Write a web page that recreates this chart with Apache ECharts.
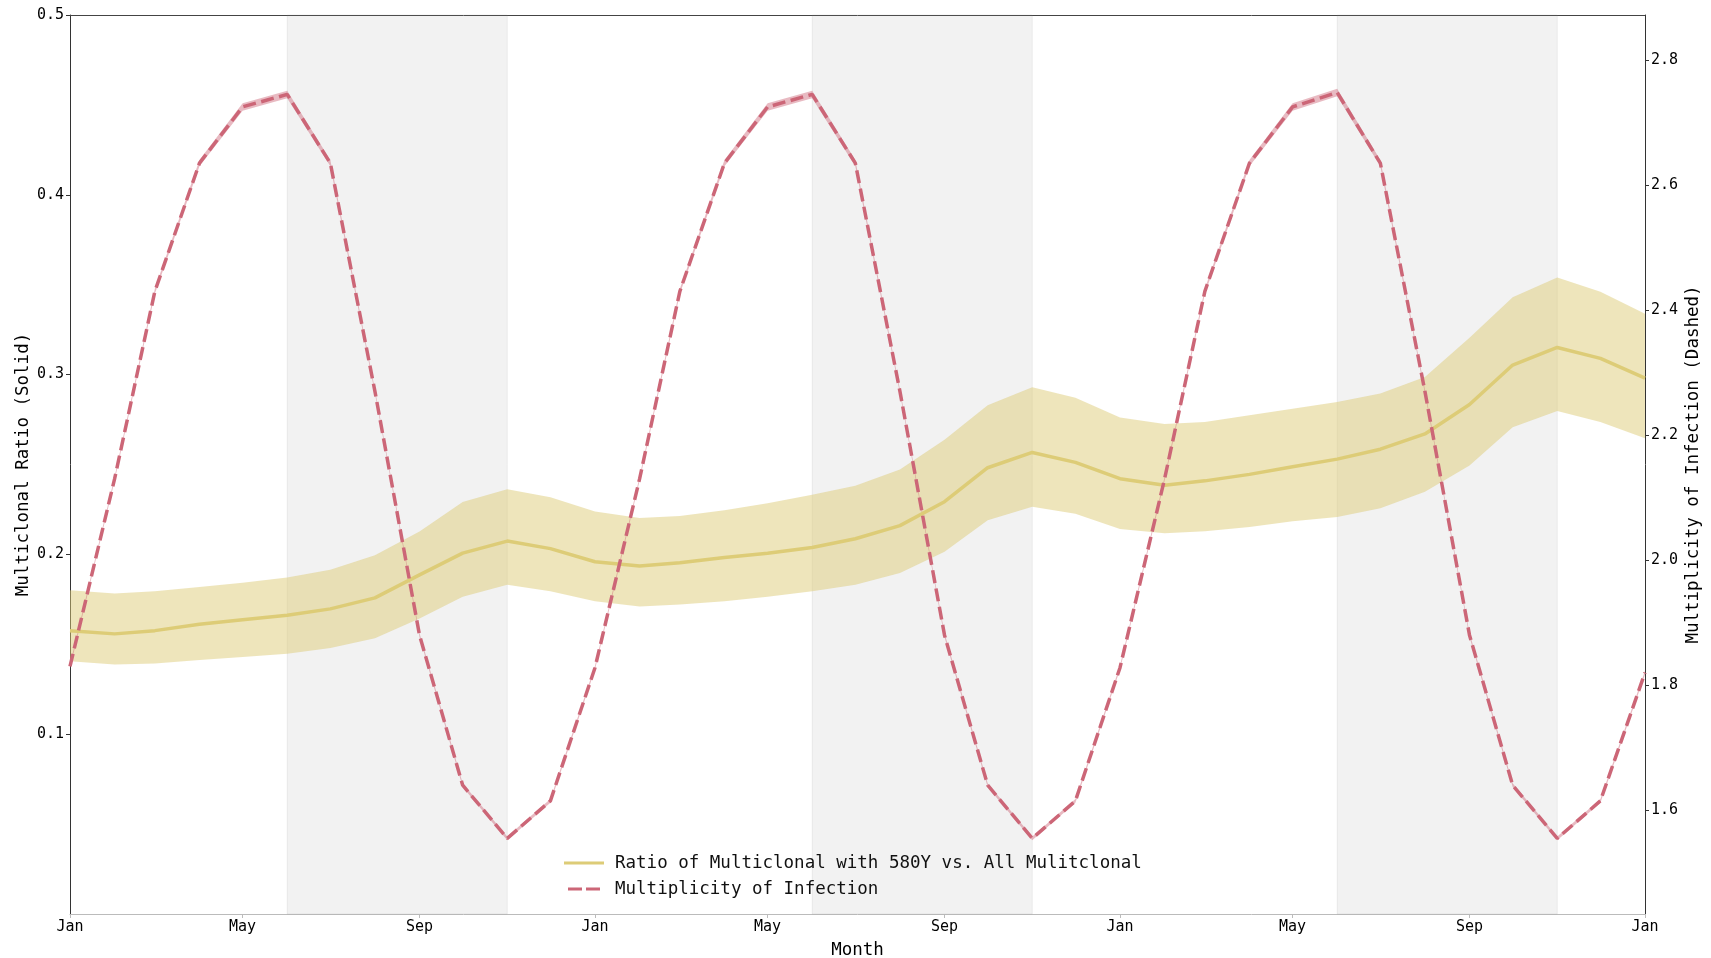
<!DOCTYPE html>
<html><head><meta charset="utf-8">
<script src="https://cdn.jsdelivr.net/npm/echarts@6/dist/echarts.min.js"></script>
<style>html,body{margin:0;padding:0;background:#fff}#chart{width:1711px;height:958px}</style>
</head><body><div id="chart"></div><script>
const months = [
  '2021-01-01','2021-02-01','2021-03-01','2021-04-01','2021-05-01','2021-06-01','2021-07-01','2021-08-01','2021-09-01','2021-10-01','2021-11-01','2021-12-01',
  '2022-01-01','2022-02-01','2022-03-01','2022-04-01','2022-05-01','2022-06-01','2022-07-01','2022-08-01','2022-09-01','2022-10-01','2022-11-01','2022-12-01',
  '2023-01-01','2023-02-01','2023-03-01','2023-04-01','2023-05-01','2023-06-01','2023-07-01','2023-08-01','2023-09-01','2023-10-01','2023-11-01','2023-12-01',
  '2024-01-01'];
const ratioMean = [0.1576,0.1558,0.1576,0.1612,0.1637,0.1661,0.1697,0.1758,0.1886,0.2007,0.2074,0.2032,
  0.1959,0.1935,0.1953,0.1983,0.2007,0.2038,0.2087,0.2160,0.2293,0.2482,0.2567,0.2512,
  0.2421,0.2385,0.2409,0.2445,0.2488,0.2530,0.2585,0.2670,0.2834,0.3053,0.3151,0.3090,0.2980];
const ratioHigh = [0.1801,0.1783,0.1795,0.1819,0.1843,0.1872,0.1915,0.1995,0.2128,0.2292,0.2362,0.2318,
  0.2239,0.2202,0.2214,0.2245,0.2285,0.2332,0.2382,0.2472,0.2638,0.2830,0.2930,0.2871,
  0.2761,0.2725,0.2737,0.2774,0.2810,0.2847,0.2895,0.2986,0.3205,0.3430,0.3540,0.3461,0.3339];
const ratioLow = [0.1406,0.1387,0.1393,0.1412,0.1430,0.1448,0.1479,0.1533,0.1643,0.1764,0.1831,0.1795,
  0.1740,0.1710,0.1722,0.1740,0.1764,0.1795,0.1831,0.1896,0.2015,0.2190,0.2265,0.2226,
  0.2141,0.2117,0.2129,0.2153,0.2184,0.2208,0.2257,0.2348,0.2494,0.2707,0.2798,0.2737,0.2646];
const moiMean = [1.830,2.130,2.430,2.635,2.725,2.745,2.635,2.270,1.880,1.640,1.555,1.615,
  1.828,2.130,2.430,2.635,2.725,2.745,2.635,2.270,1.880,1.640,1.555,1.615,
  1.828,2.130,2.430,2.635,2.725,2.748,2.635,2.270,1.880,1.640,1.555,1.615,1.820];
const moiErr = [0.003,0.003,0.004,0.005,0.006,0.006,0.005,0.003,0.003,0.003,0.003,0.003,
  0.003,0.003,0.004,0.005,0.006,0.006,0.005,0.003,0.003,0.003,0.003,0.003,
  0.003,0.003,0.004,0.005,0.006,0.006,0.005,0.003,0.003,0.003,0.003,0.003,0.003];
const leftTicks = [0.1,0.2,0.3,0.4,0.5];
const rightTicks = [1.6,1.8,2.0,2.2,2.4,2.6,2.8];
const xTickDates = ['2021-01-01','2021-05-01','2021-09-01','2022-01-01','2022-05-01','2022-09-01','2023-01-01','2023-05-01','2023-09-01','2024-01-01'];
const monthNames = ['Jan','Feb','Mar','Apr','May','Jun','Jul','Aug','Sep','Oct','Nov','Dec'];
const seasonSpans = [['2021-06-01','2021-11-01'],['2022-06-01','2022-11-01'],['2023-06-01','2023-11-01']];
const seriesNames = ['Ratio of Multiclonal with 580Y vs. All Mulitclonal','Multiplicity of Infection'];

function ts(s){ return Date.UTC(+s.slice(0,4), +s.slice(5,7)-1, +s.slice(8,10)); }
const X = months.map(ts);
const xTicks = xTickDates.map(ts);
const FONT = 'DejaVu Sans Mono';
const SAND = '#DDCC77', ROSE = '#CC6677';
const moiLow = moiMean.map((v,i)=>v-moiErr[i]);
const moiHigh = moiMean.map((v,i)=>v+moiErr[i]);

function bandSeries(low, high, yIdx, fill, z){
  return {type:'custom', yAxisIndex:yIdx, z:z, silent:true, clip:true,
    data: X.map((t,i)=>[t, low[i], high[i]]),
    encode:{x:0, y:[1,2]},
    renderItem:(params, api)=>{
      if (params.dataIndex !== 0) return null;
      const pts = [];
      for (let i=0;i<X.length;i++) pts.push(api.coord([X[i], high[i]]));
      for (let i=X.length-1;i>=0;i--) pts.push(api.coord([X[i], low[i]]));
      return {type:'polygon', shape:{points:pts}, style:{fill:fill}};
    }};
}

const tickFont = {fontFamily:FONT, fontSize:15, color:'#000'};
const titleFont = {fontFamily:FONT, fontSize:17.5, color:'#000'};
const chart = echarts.init(document.getElementById('chart'), null, {renderer:'canvas'});
chart.setOption({
  animation:false,
  backgroundColor:'#fff',
  grid:{left:70, right:66, top:15, bottom:44, outerBoundsMode:'none', containLabel:false},
  legend:{
    orient:'vertical', left:559, top:848, itemWidth:40, itemHeight:3, itemGap:6,
    itemStyle:{borderWidth:0},
    textStyle:{fontFamily:FONT, fontSize:17.5, color:'#111', lineHeight:20, padding:[0,0,0,6]},
    data:[{name:seriesNames[0], icon:'rect'},
          {name:seriesNames[1], icon:'path://M0,0h14v3h-14z M18,0h14v3h-14z'}]
  },
  xAxis:[{
    type:'value', min:X[0], max:X[X.length-1],
    name:'Month', nameLocation:'middle', nameGap:27, nameMoveOverlap:false,
    nameTextStyle:titleFont,
    axisLine:{show:true, lineStyle:{color:'#bbbbbb', width:1}},
    axisTick:{show:true, length:4, lineStyle:{color:'#bbbbbb'}, customValues:xTicks},
    axisLabel:Object.assign({margin:6, customValues:xTicks,
      formatter:v => monthNames[new Date(v).getUTCMonth()]}, tickFont),
    splitLine:{show:false}
  },{
    type:'value', position:'top', min:X[0], max:X[X.length-1],
    axisLine:{show:true, lineStyle:{color:'#444', width:1}},
    axisTick:{show:false}, axisLabel:{show:false}, splitLine:{show:false}
  }],
  yAxis:[{
    type:'value', position:'left', min:0, max:0.5,
    name:'Multiclonal Ratio (Solid)', nameLocation:'middle', nameGap:38, nameMoveOverlap:false,
    nameTextStyle:titleFont,
    axisLine:{show:true, lineStyle:{color:'#333', width:1}},
    axisTick:{show:true, length:4, lineStyle:{color:'#333'}, customValues:leftTicks},
    axisLabel:Object.assign({margin:6, customValues:leftTicks,
      formatter:v => (Math.round(v*10)/10).toString()}, tickFont),
    splitLine:{show:false}
  },{
    type:'value', position:'right', min:1.434, max:2.872,
    name:'Multiplicity of Infection (Dashed)', nameLocation:'middle', nameGap:39.5, nameMoveOverlap:false,
    nameTextStyle:titleFont,
    axisLine:{show:true, lineStyle:{color:'#333', width:1}},
    axisTick:{show:true, length:4, lineStyle:{color:'#333'}, customValues:rightTicks},
    axisLabel:Object.assign({margin:6, customValues:rightTicks,
      formatter:v => v.toFixed(1)}, tickFont),
    splitLine:{show:false}
  }],
  series:[
    {type:'line', name:'season', data:[], xAxisIndex:0, yAxisIndex:0, silent:true,
      markArea:{silent:true, z:1, itemStyle:{color:'rgba(128,128,128,0.1)', borderColor:'rgba(128,128,128,0.12)', borderWidth:1},
        data:seasonSpans.map(s => [{xAxis:ts(s[0])},{xAxis:ts(s[1])}])}},
    bandSeries(ratioLow, ratioHigh, 0, 'rgba(221,204,119,0.5)', 2),
    bandSeries(moiLow, moiHigh, 1, 'rgba(204,102,119,0.45)', 2),
    {type:'line', name:seriesNames[0], yAxisIndex:0, z:3, symbol:'none',
      color:SAND, itemStyle:{color:SAND},
      lineStyle:{color:SAND, width:3.5},
      data:X.map((t,i)=>[t, ratioMean[i]])},
    {type:'line', name:seriesNames[1], yAxisIndex:1, z:4, symbol:'none',
      color:ROSE, itemStyle:{color:ROSE},
      lineStyle:{color:ROSE, width:3.5, type:[13,5.5]},
      data:X.map((t,i)=>[t, moiMean[i]])}
  ]
});
</script></body></html>
